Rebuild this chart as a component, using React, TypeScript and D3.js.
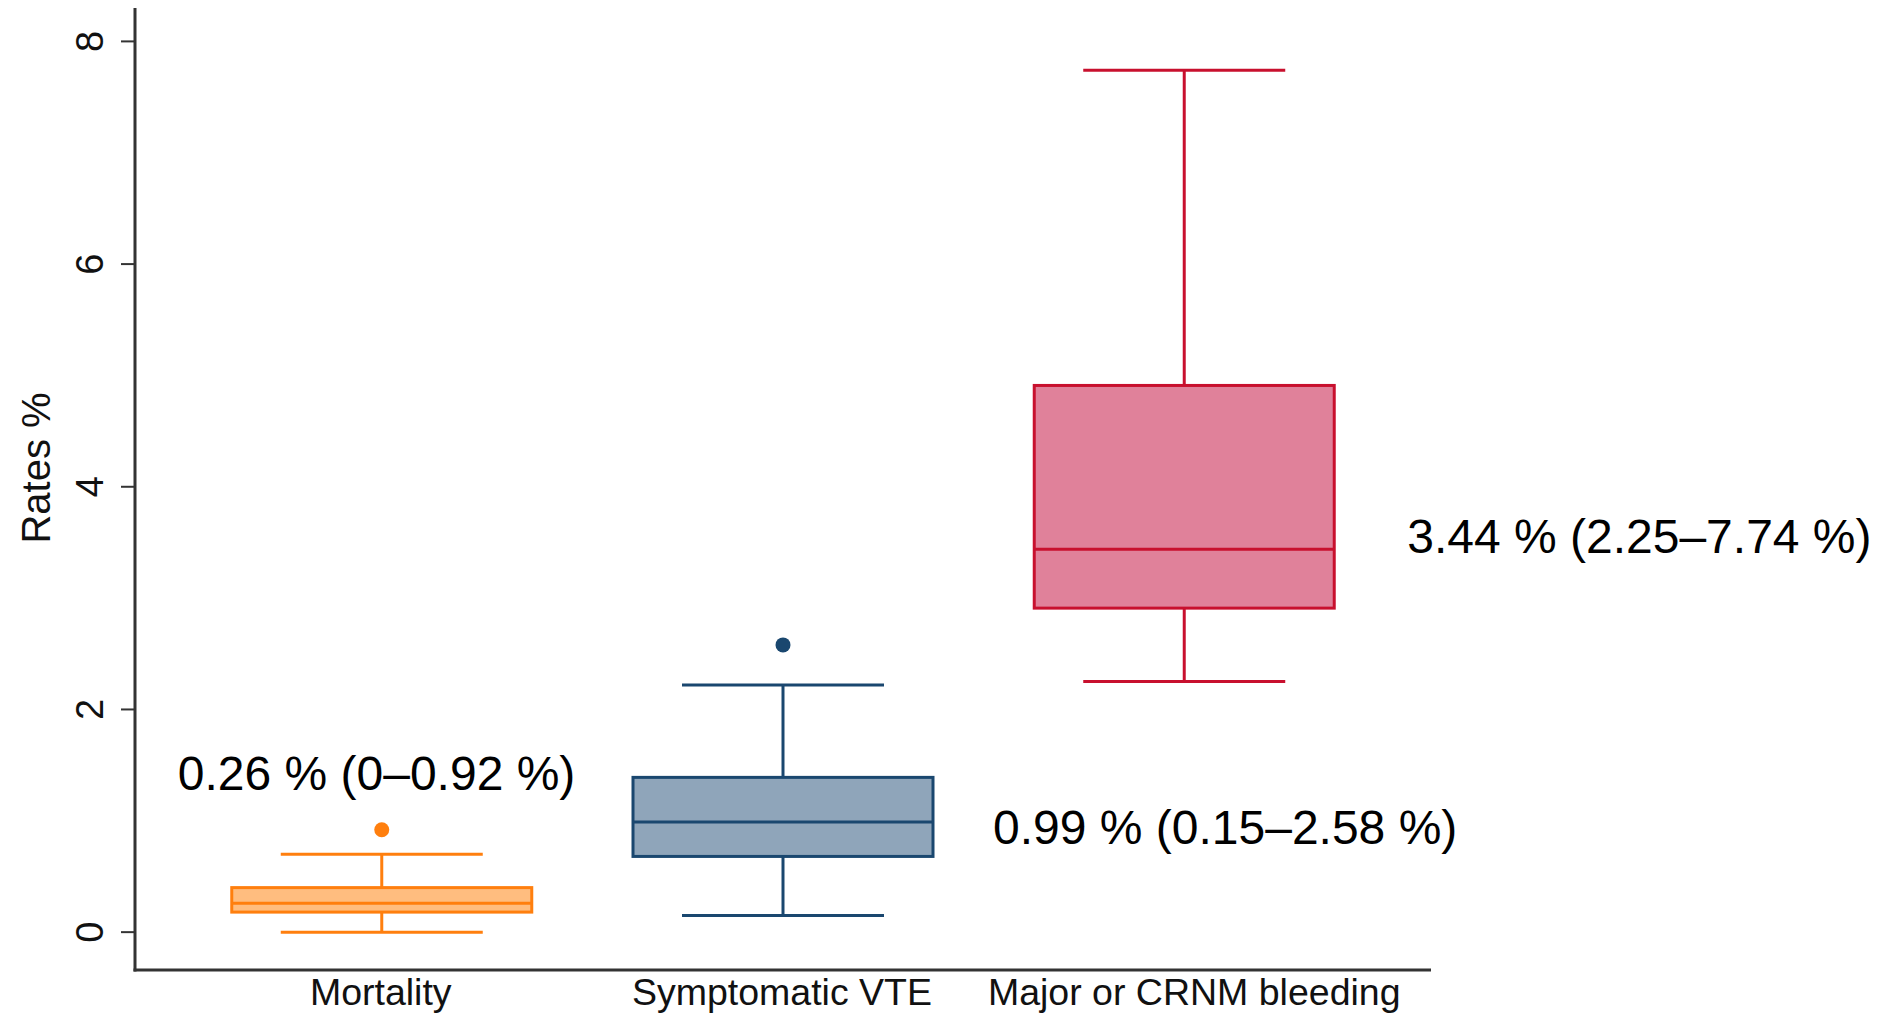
import { scaleLinear, scalePoint } from "d3"

const categories = ["Mortality", "Symptomatic VTE", "Major or CRNM bleeding"]
const whiskerLow = [0, 0.15, 2.25]
const q1 = [0.18, 0.68, 2.91]
const medians = [0.26, 0.99, 3.44]
const q3 = [0.4, 1.39, 4.91]
const whiskerHigh = [0.7, 2.22, 7.74]
const outliers = [[0.92], [2.58], []]
const annotations = ["0.26 % (0–0.92 %)", "0.99 % (0.15–2.58 %)", "3.44 % (2.25–7.74 %)"]
const yTicks = [0, 2, 4, 6, 8]

const strokeColors = ["#ff7f0e", "#1a476f", "#c8102e"]
const fillColors = ["#ffbd7f", "#8fa5ba", "#e0819a"]

const W = 1882
const H = 1014
const left = 135
const right = 1431
const top = 8
const bottom = 970

const font = "'Liberation Sans', Arial, sans-serif"

const App = () => {
    const x = scalePoint<string>()
        .domain(categories)
        .range([left, right])
        .padding(0.615)

    const y = scaleLinear()
        .domain([-0.34, 8.3])
        .range([bottom, top])

    const boxW = 300
    const capW = 202

    // label nudges, the original ones are not exactly centred
    const labelDx = [-1, -1, 10]

    // annotation placement relative to the boxes
    const annPos = [
        { x: x(categories[0])! - 204, y: y(0.92) - 40 },
        { x: x(categories[1])! + 210, y: y(medians[1]) + 22 },
        { x: x(categories[2])! + 223, y: y(medians[2]) + 4 },
    ]

    return (
        <svg width={W} height={H} style={{ position: "absolute", left: 0, top: 0, background: "#fff" }}>
            {/* axes */}
            <line x1={left} x2={left} y1={top} y2={bottom + 1.5} stroke="#333" strokeWidth={3} />
            <line x1={left - 1.5} x2={right} y1={bottom} y2={bottom} stroke="#333" strokeWidth={3} />
            {yTicks.map(t => (
                <g key={t}>
                    <line x1={left - 14} x2={left} y1={y(t)} y2={y(t)} stroke="#333" strokeWidth={2} />
                    <text
                        transform={`translate(103,${y(t)}) rotate(-90)`}
                        textAnchor="middle"
                        fontFamily={font}
                        fontSize={38}
                        fill="#111"
                    >{t}</text>
                </g>
            ))}
            <text
                transform={`translate(50,468) rotate(-90)`}
                textAnchor="middle"
                fontFamily={font}
                fontSize={40}
                fill="#111"
            >Rates %</text>
            {categories.map((c, i) => (
                <text key={c} x={x(c)! + labelDx[i]} y={1005} textAnchor="middle" fontFamily={font} fontSize={37.5} fill="#111">{c}</text>
            ))}

            {/* boxes */}
            {categories.map((c, i) => {
                const cx = x(c)!
                const col = strokeColors[i]
                return (
                    <g key={c} stroke={col} strokeWidth={3}>
                        <line x1={cx} x2={cx} y1={y(whiskerHigh[i])} y2={y(q3[i])} />
                        <line x1={cx} x2={cx} y1={y(q1[i])} y2={y(whiskerLow[i])} />
                        <line x1={cx - capW / 2} x2={cx + capW / 2} y1={y(whiskerHigh[i])} y2={y(whiskerHigh[i])} />
                        <line x1={cx - capW / 2} x2={cx + capW / 2} y1={y(whiskerLow[i])} y2={y(whiskerLow[i])} />
                        <rect
                            x={cx - boxW / 2}
                            y={y(q3[i])}
                            width={boxW}
                            height={y(q1[i]) - y(q3[i])}
                            fill={fillColors[i]}
                        />
                        <line x1={cx - boxW / 2} x2={cx + boxW / 2} y1={y(medians[i])} y2={y(medians[i])} />
                        {outliers[i].map((o, j) => (
                            <circle key={j} cx={cx} cy={y(o)} r={7.5} fill={col} stroke="none" />
                        ))}
                    </g>
                )
            })}

            {/* annotations */}
            {annotations.map((a, i) => (
                <text key={a} x={annPos[i].x} y={annPos[i].y} fontFamily={font} fontSize={48} fill="#000">{a}</text>
            ))}
        </svg>
    )
}

export default App
